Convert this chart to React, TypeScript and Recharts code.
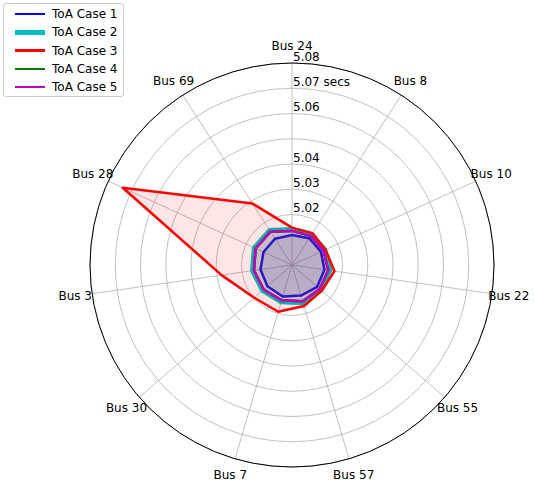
import React from "react";
import {
  RadarChart,
  Radar,
  PolarGrid,
  PolarAngleAxis,
  PolarRadiusAxis,
  Legend,
} from "recharts";

const categories = [
  "Bus 24", "Bus 8", "Bus 10", "Bus 22", "Bus 55", "Bus 57",
  "Bus 7", "Bus 30", "Bus 3", "Bus 28", "Bus 69",
];

const case1 = [5.0119, 5.0126, 5.0126, 5.013, 5.0132, 5.0126, 5.013, 5.0129, 5.0126, 5.0124, 5.0124];
const case2 = [5.0141, 5.0143, 5.0143, 5.0151, 5.0151, 5.0156, 5.0152, 5.0154, 5.0158, 5.0164, 5.0163];
const case3 = [5.0148, 5.015, 5.0146, 5.017, 5.0156, 5.0169, 5.0193, 5.0198, 5.0282, 5.0737, 5.0289];
const case4 = [5.0135, 5.0137, 5.0137, 5.0145, 5.0145, 5.015, 5.0146, 5.0148, 5.0152, 5.0158, 5.0157];
const case5 = [5.0135, 5.0137, 5.0137, 5.0145, 5.0145, 5.015, 5.0146, 5.0148, 5.0152, 5.0158, 5.0157];

const radiusTicks = [5.02, 5.03, 5.04, 5.05, 5.06, 5.07, 5.08];
const radiusTickLabels = ["5.02", "5.03", "5.04", "", "5.06", "5.07 secs", "5.08"];
const radiusDomain = [5.005, 5.08];

const seriesNames = ["ToA Case 1", "ToA Case 2", "ToA Case 3", "ToA Case 4", "ToA Case 5"];
const seriesColors = ["#0000ff", "#00bfbf", "#ff0000", "#008000", "#bf00bf"];
const seriesWidths = [2.5, 5, 2.5, 2.5, 2.5];
const seriesKeys = ["c1", "c2", "c3", "c4", "c5"];

const data = categories.map((bus, i) => ({
  bus,
  c1: case1[i],
  c2: case2[i],
  c3: case3[i],
  c4: case4[i],
  c5: case5[i],
}));

const FONT = "'DejaVu Sans', sans-serif";

const AngleTick = (props: any) => {
  const { x, y, payload } = props;
  return (
    <text
      x={x}
      y={y}
      textAnchor="middle"
      dominantBaseline="central"
      fontFamily={FONT}
      fontSize={12}
      fill="#000"
    >
      {payload.value}
    </text>
  );
};

const RadiusTick = (props: any) => {
  const { x, y, payload } = props;
  const idx = radiusTicks.findIndex((t) => Math.abs(t - payload.value) < 1e-9);
  const label = idx >= 0 ? radiusTickLabels[idx] : "";
  if (!label) return null;
  return (
    <text x={x + 1} y={y - 2.5} textAnchor="start" fontFamily={FONT} fontSize={12} fill="#000">
      {label}
    </text>
  );
};

const LegendContent = () => (
  <div
    style={{
      width: 121,
      height: 94,
      boxSizing: "border-box",
      border: "1px solid #cccccc",
      borderRadius: 3,
      background: "rgba(255,255,255,0.8)",
      position: "relative",
      fontFamily: FONT,
      fontSize: 12,
    }}
  >
    {seriesNames.map((name, i) => (
      <div
        key={name}
        style={{
          position: "absolute",
          left: 0,
          top: 10 + i * 18.3 - 9,
          height: 18,
          display: "flex",
          alignItems: "center",
        }}
      >
        <div
          style={{
            marginLeft: 11,
            width: 30,
            height: seriesWidths[i],
            background: seriesColors[i],
          }}
        />
        <span style={{ marginLeft: 7, color: "#000", whiteSpace: "nowrap" }}>{name}</span>
      </div>
    ))}
  </div>
);

export default function App() {
  return (
    <div style={{ position: "absolute", left: 0, top: 0, width: 535, height: 487, background: "#fff" }}>
      <RadarChart
        width={535}
        height={487}
        cx={292}
        cy={265}
        outerRadius={202}
        data={data}
        margin={{ top: 0, right: 0, bottom: 0, left: 0 }}
        startAngle={90}
        endAngle={-270}
      >
        <PolarGrid gridType="circle" stroke="#b0b0b0" strokeWidth={0.8} />
        <PolarAngleAxis
          dataKey="bus"
          tick={<AngleTick />}
          tickLine={false}
          tickSize={17}
          axisLine={{ stroke: "#000", strokeWidth: 1 }}
          axisLineType="circle"
        />
        <PolarRadiusAxis
          angle={90}
          domain={radiusDomain}
          ticks={radiusTicks}
          type="number"
          allowDataOverflow
          tick={<RadiusTick />}
          axisLine={false}
          tickLine={false}
        />
        {seriesKeys.map((k, i) => (
          <Radar
            key={k}
            name={seriesNames[i]}
            dataKey={k}
            stroke={seriesColors[i]}
            strokeWidth={seriesWidths[i]}
            strokeLinejoin="round"
            fill={seriesColors[i]}
            fillOpacity={0.1}
            dot={false}
            isAnimationActive={false}
          />
        ))}
        <Legend
          content={<LegendContent />}
          wrapperStyle={{ position: "absolute", left: 3, top: 3, width: 121, height: 94 }}
        />
      </RadarChart>
    </div>
  );
}
